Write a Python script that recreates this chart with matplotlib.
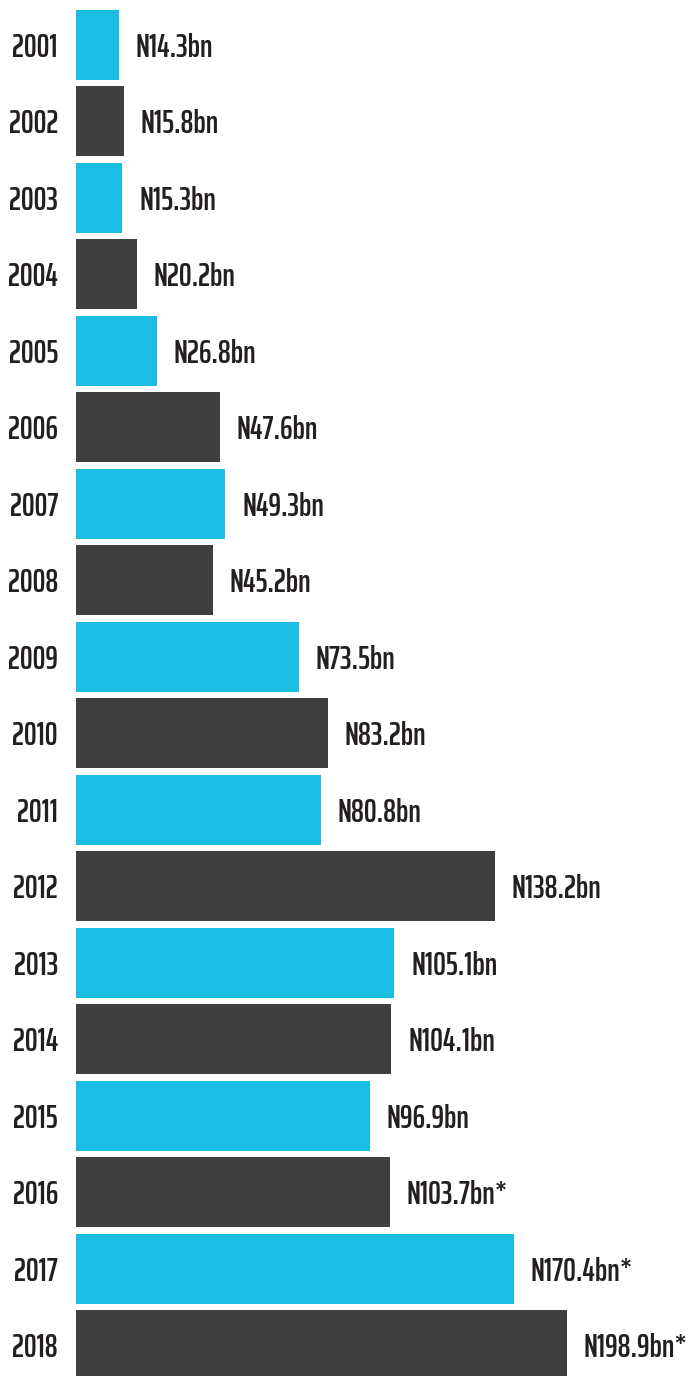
import matplotlib.pyplot as plt

years = ['2001', '2002', '2003', '2004', '2005', '2006', '2007', '2008', '2009',
         '2010', '2011', '2012', '2013', '2014', '2015', '2016', '2017', '2018']
values = [14.3, 15.8, 15.3, 20.2, 26.8, 47.6, 49.3, 45.2, 73.5,
          83.2, 80.8, 138.2, 105.1, 104.1, 96.9, 103.7, 170.4, 198.9]
# drawn lengths as seen in the picture (last two bars are shortened to fit)
bar_len = [14.3, 15.8, 15.3, 20.2, 26.8, 47.6, 49.3, 45.2, 73.5,
           83.2, 80.8, 138.2, 105.1, 104.1, 96.9, 103.7, 144.5, 162.0]
notes = ['', '', '', '', '', '', '', '', '',
         '', '', '', '', '', '', '*', '*', '*']

CYAN = '#1cbde3'
DARK = '#3f3f3f'
TXT = '#231f20'
FONT = ['Saira ExtraCondensed', 'DejaVu Sans']

W, H = 692, 1376
fig = plt.figure(figsize=(W / 100, H / 100), dpi=100)
ax = fig.add_axes([76 / W, 0, (W - 76) / W, 1])

pos = list(range(len(years)))
colors = [CYAN if i % 2 == 0 else DARK for i in pos]
ax.barh(pos, bar_len, height=0.915, color=colors, linewidth=0)

for i in pos:
    ax.annotate(f'N{values[i]}bn{notes[i]}', xy=(bar_len[i], i), xytext=(12, 0),
                textcoords='offset points', ha='left', va='center_baseline',
                fontsize=23, fontweight=600, color=TXT, family=FONT)

ax.set_xlim(0, (W - 76) / 3.03)
ax.set_ylim(17.4, -0.588)
ax.set_yticks(pos)
ax.set_yticklabels(years, fontsize=23, fontweight=600, color=TXT, family=FONT,
                   va='center_baseline')
ax.tick_params(axis='y', length=0, pad=13)
ax.set_xticks([])
for s in ax.spines.values():
    s.set_visible(False)

fig.savefig('out.png', dpi=100)
